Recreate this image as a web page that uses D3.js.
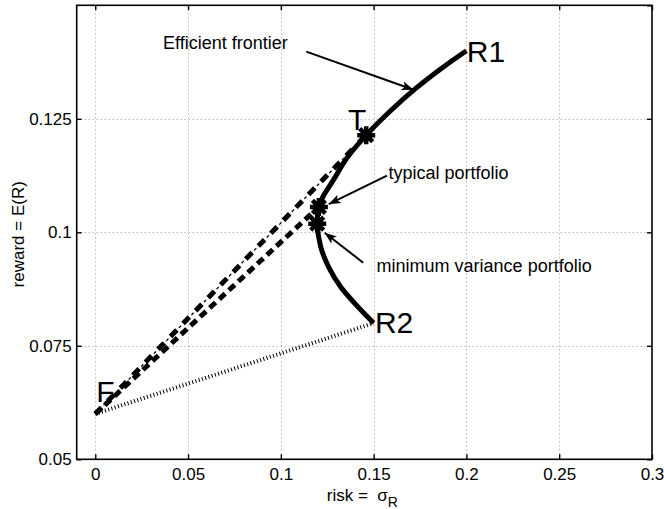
<!DOCTYPE html>
<html>
<head>
<meta charset="utf-8">
<script src="https://cdn.jsdelivr.net/npm/d3@7"></script>
<style>
  body { margin: 0; background: #fff; }
  svg { display: block; font-family: "Liberation Sans", Arial, Helvetica, sans-serif; }
</style>
</head>
<body>
<div id="chart"></div>
<script>
// tick values
var xTicks = [0, 0.05, 0.1, 0.15, 0.2, 0.25, 0.3];
var yTicks = [0.05, 0.075, 0.1, 0.125];

// efficient frontier [risk, reward], from R2 up to R1
var frontierRisk   = [0.150, 0.1397, 0.1322, 0.1257, 0.1215, 0.1196, 0.1204, 0.1229, 0.1283, 0.1355, 0.1460, 0.1600, 0.1730, 0.1865, 0.200];
var frontierReward = [0.080, 0.0844, 0.0880, 0.0924, 0.0968, 0.1019, 0.1056, 0.1080, 0.1115, 0.1163, 0.1214, 0.1271, 0.1318, 0.1361, 0.140];

// named points
var pointNames  = ["F", "R1", "R2", "T", "typical", "minvar"];
var pointRisk   = [0, 0.200, 0.150, 0.1460, 0.1205, 0.1196];
var pointReward = [0.060, 0.140, 0.080, 0.1214, 0.1056, 0.1019];

// big letter labels
var labelText   = ["R1", "R2", "T", "F"];
var labelRisk   = [0.2002, 0.1507, 0.1362, 0.0005];
var labelReward = [0.1400, 0.0801, 0.1250, 0.0650];

// annotation texts and their arrows (data units)
var noteText   = ["Efficient frontier", "typical portfolio", "minimum variance portfolio"];
var noteRisk   = [0.0365, 0.1580, 0.1516];
var noteReward = [0.1418, 0.1132, 0.0926];
var arrowFrom  = [[0.1137, 0.1398], [0.1572, 0.1125], [0.1444, 0.0933]];
var arrowTo    = [[0.1715, 0.1314], [0.1258, 0.1062], [0.1236, 0.0999]];

var W = 664, H = 509;
var mL = 76.7, mR = 652, mT = 5.3, mB = 459.3;

var svg = d3.select("#chart").append("svg")
  .attr("width", W).attr("height", H);

var x = d3.scaleLinear().domain([-0.01, 0.3]).range([mL, mR]);
var y = d3.scaleLinear().domain([0.05, 0.15]).range([mB, mT]);

// grid
var grid = svg.append("g").attr("stroke", "#9a9a9a").attr("stroke-width", 1).attr("stroke-dasharray", "1,3");
grid.selectAll(".gx").data(xTicks.filter(function(d){ return d < 0.3; })).enter().append("line")
  .attr("x1", function(d){ return Math.round(x(d)) + 0.5; })
  .attr("x2", function(d){ return Math.round(x(d)) + 0.5; })
  .attr("y1", mT).attr("y2", mB);
grid.selectAll(".gy").data(yTicks.filter(function(d){ return d > 0.05; })).enter().append("line")
  .attr("y1", function(d){ return Math.round(y(d)) + 0.5; })
  .attr("y2", function(d){ return Math.round(y(d)) + 0.5; })
  .attr("x1", mL).attr("x2", mR);

function P(i){ return [x(pointRisk[i]), y(pointReward[i])]; }
var F = P(0), R2 = P(2), T = P(3), TP = P(4);

// F to R2, thin dotted
svg.append("line")
  .attr("x1", F[0]).attr("y1", F[1]).attr("x2", R2[0]).attr("y2", R2[1])
  .attr("stroke", "#000").attr("stroke-width", 4).attr("stroke-dasharray", "1,2.4");

// F to T, dash-dot
svg.append("line")
  .attr("x1", F[0]).attr("y1", F[1]).attr("x2", T[0]).attr("y2", T[1])
  .attr("stroke", "#000").attr("stroke-width", 1.3)
  .attr("stroke-dasharray", "3,15").attr("stroke-dashoffset", 6);
svg.append("line")
  .attr("x1", F[0]).attr("y1", F[1]).attr("x2", T[0]).attr("y2", T[1])
  .attr("stroke", "#000").attr("stroke-width", 5).attr("stroke-dasharray", "9,9");

// F to typical portfolio, dashed
svg.append("line")
  .attr("x1", F[0]).attr("y1", F[1]).attr("x2", TP[0]).attr("y2", TP[1])
  .attr("stroke", "#000").attr("stroke-width", 5).attr("stroke-dasharray", "8,5");

// frontier
var line = d3.line()
  .x(function(d, i){ return x(frontierRisk[i]); })
  .y(function(d, i){ return y(frontierReward[i]); })
  .curve(d3.curveCatmullRom.alpha(0.5));
svg.append("path")
  .attr("d", line(frontierRisk))
  .attr("fill", "none").attr("stroke", "#000").attr("stroke-width", 5)
  .attr("stroke-linejoin", "round");

// asterisk markers at T, typical, min variance
var r = 9, q = r * 0.72;
var star = "M" + (-r) + ",0L" + r + ",0M0," + (-r) + "L0," + r +
  "M" + (-q) + "," + (-q) + "L" + q + "," + q + "M" + (-q) + "," + q + "L" + q + "," + (-q);
svg.selectAll(".mk").data([3, 4, 5]).enter().append("path")
  .attr("d", star)
  .attr("transform", function(i){ var p = P(i); return "translate(" + p[0] + "," + p[1] + ")"; })
  .attr("stroke", "#000").attr("stroke-width", 4.5).attr("fill", "none");

// arrows
svg.append("defs").append("marker")
  .attr("id", "head").attr("markerUnits", "userSpaceOnUse")
  .attr("markerWidth", 16).attr("markerHeight", 12)
  .attr("viewBox", "-14 -6 16 12").attr("refX", 0).attr("refY", 0)
  .attr("orient", "auto")
  .append("path").attr("d", "M0,0L-12,-4.5L-9,0L-12,4.5Z").attr("fill", "#000");

svg.selectAll(".arrow").data(arrowFrom).enter().append("line")
  .attr("x1", function(d){ return x(d[0]); })
  .attr("y1", function(d){ return y(d[1]); })
  .attr("x2", function(d, i){ return x(arrowTo[i][0]); })
  .attr("y2", function(d, i){ return y(arrowTo[i][1]); })
  .attr("stroke", "#000").attr("stroke-width", 2)
  .attr("marker-end", "url(#head)");

svg.selectAll(".note").data(noteText).enter().append("text")
  .attr("x", function(d, i){ return x(noteRisk[i]); })
  .attr("y", function(d, i){ return y(noteReward[i]); })
  .attr("dy", "0.35em")
  .attr("font-size", 18)
  .text(function(d){ return d; });

svg.selectAll(".lbl").data(labelText).enter().append("text")
  .attr("x", function(d, i){ return x(labelRisk[i]); })
  .attr("y", function(d, i){ return y(labelReward[i]); })
  .attr("dy", "0.36em")
  .attr("font-size", 30)
  .text(function(d){ return d; });

// box
svg.append("rect")
  .attr("x", mL).attr("y", mT).attr("width", mR - mL).attr("height", mB - mT)
  .attr("fill", "none").attr("stroke", "#000").attr("stroke-width", 1.6);

// axes
var fmt = function(d){ return String(d); };
svg.append("g").attr("transform", "translate(0," + mB + ")")
  .call(d3.axisBottom(x).tickValues(xTicks).tickFormat(fmt).tickSize(-5).tickPadding(9));
svg.append("g").attr("transform", "translate(" + mL + ",0)")
  .call(d3.axisLeft(y).tickValues(yTicks).tickFormat(fmt).tickSize(-5).tickPadding(5));
svg.append("g").attr("transform", "translate(0," + mT + ")")
  .call(d3.axisTop(x).tickValues(xTicks).tickFormat("").tickSize(-5));
svg.append("g").attr("transform", "translate(" + mR + ",0)")
  .call(d3.axisRight(y).tickValues(yTicks.concat([0.15])).tickFormat("").tickSize(-5));

svg.selectAll(".domain").remove();
svg.selectAll(".tick line").attr("stroke", "#000").attr("stroke-width", 1.4);
svg.selectAll(".tick text").attr("font-size", 17).attr("fill", "#000")
  .attr("font-family", "\"Liberation Sans\", Arial, sans-serif");

// axis labels
var xl = svg.append("text")
  .attr("x", (mL + mR) / 2 - 2).attr("y", 500.5)
  .attr("text-anchor", "middle").attr("font-size", 17)
  .style("white-space", "pre");
xl.append("tspan").text("risk =  \u03c3");
xl.append("tspan").attr("font-size", 14).attr("dy", 6).text("R");

svg.append("text")
  .attr("transform", "translate(24," + ((mT + mB) / 2 + 2) + ") rotate(-90)")
  .attr("text-anchor", "middle").attr("font-size", 17)
  .text("reward = E(R)");
</script>
</body>
</html>
